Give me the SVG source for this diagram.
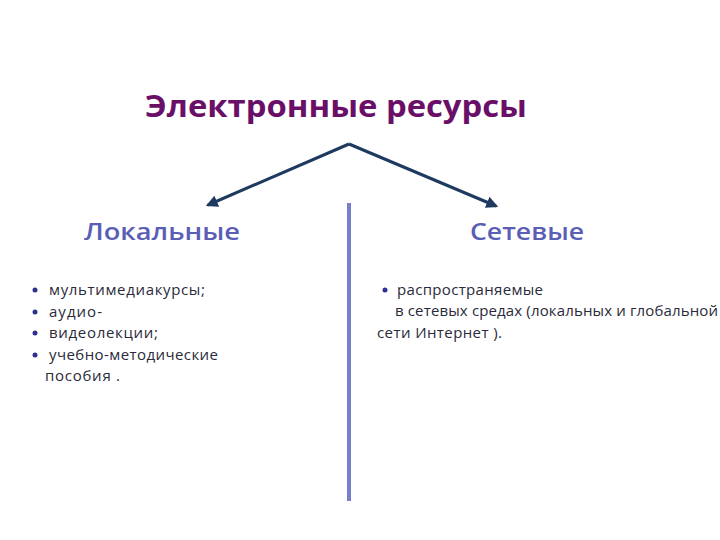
<svg xmlns="http://www.w3.org/2000/svg" width="720" height="540" viewBox="0 0 720 540">
<style>
.title{font-family:"Open Sans","Liberation Sans",sans-serif;font-weight:bold;font-size:30px;fill:#6A0F68}
.head{font-family:"Open Sans","Liberation Sans",sans-serif;font-weight:600;font-size:24px;fill:#5A5EB4}
.item{font-family:"Open Sans","Liberation Sans",sans-serif;font-size:15px;fill:#2A2A3A}
.dot{fill:#2E3192}
</style>
<defs>
<marker id="ah" viewBox="0 0 10 10" refX="8" refY="5" markerWidth="4" markerHeight="4" orient="auto" markerUnits="strokeWidth">
<path d="M0,0 L10,5 L0,10 z" fill="#1F3A60"/>
</marker>
</defs>
<rect width="720" height="540" fill="#fff"/>
<g id="title"><text class="title" x="145" y="117" textLength="382" lengthAdjust="spacingAndGlyphs">Электронные ресурсы</text></g>
<g id="connectors">
<polyline points="349,144 208,205" fill="none" stroke="#1F3A60" stroke-width="3" marker-end="url(#ah)"/>
<polyline points="349,144 496,206" fill="none" stroke="#1F3A60" stroke-width="3" marker-end="url(#ah)"/>
<line x1="349" y1="203" x2="349" y2="501" stroke="#7A7FC8" stroke-width="4"/>
</g>
<g id="local">
<text class="head" x="84" y="240" textLength="156" lengthAdjust="spacingAndGlyphs">Локальные</text>
<circle class="dot" cx="35" cy="290" r="2.5"/>
<circle class="dot" cx="35" cy="312" r="2.5"/>
<circle class="dot" cx="35" cy="333" r="2.5"/>
<circle class="dot" cx="35" cy="355" r="2.5"/>
<text class="item" x="49" y="295" textLength="156">мультимедиакурсы;</text>
<text class="item" x="49" y="317" textLength="53">аудио-</text>
<text class="item" x="49" y="338" textLength="109">видеолекции;</text>
<text class="item" x="49" y="360" textLength="169">учебно-методические</text>
<text class="item" x="45" y="381" textLength="75">пособия .</text>
</g>
<g id="network">
<text class="head" x="470" y="240" textLength="114" lengthAdjust="spacingAndGlyphs">Сетевые</text>
<circle class="dot" cx="385" cy="290" r="2.5"/>
<text class="item" x="397" y="295" textLength="146">распространяемые</text>
<text class="item" x="395" y="316" textLength="323">в сетевых средах (локальных и глобальной</text>
<text class="item" x="377" y="338" textLength="125">сети Интернет ).</text>
</g>
</svg>
